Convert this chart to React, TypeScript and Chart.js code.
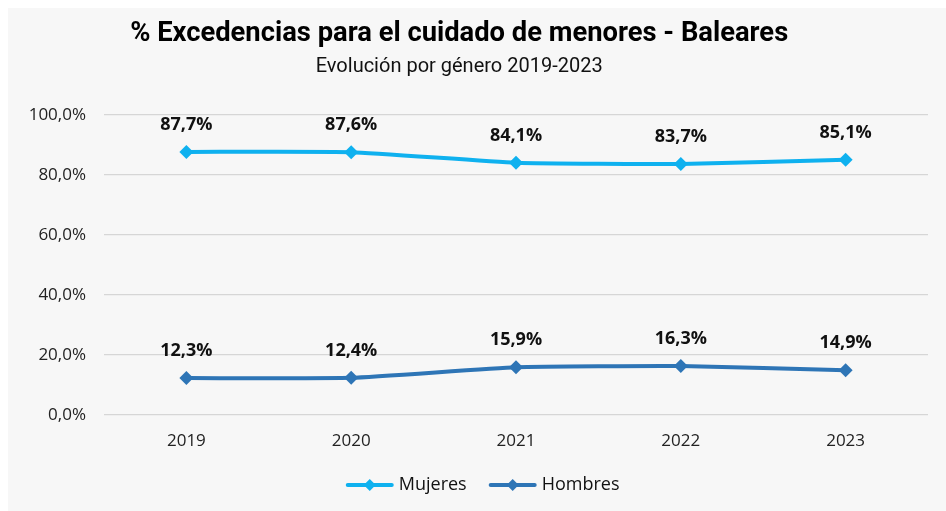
import React, { useEffect, useRef } from "react";
import { Chart, registerables } from "chart.js";

Chart.register(...registerables);

const categories = ["2019", "2020", "2021", "2022", "2023"];
const mujeres = [87.7, 87.6, 84.1, 83.7, 85.1];
const hombres = [12.3, 12.4, 15.9, 16.3, 14.9];
const yTicks = [0, 20, 40, 60, 80, 100];
const titleText = "% Excedencias para el cuidado de menores - Baleares";
const subtitleText = "Evolución por género 2019-2023";

const COLOR_M = "#0fb1ef";
const COLOR_H = "#2e75b6";

const fmt = (v: number) => v.toFixed(1).replace(".", ",") + "%";

const drawDiamond = (ctx: CanvasRenderingContext2D, x: number, y: number, r: number, color: string) => {
  ctx.beginPath();
  ctx.moveTo(x, y - r);
  ctx.lineTo(x + r, y);
  ctx.lineTo(x, y + r);
  ctx.lineTo(x - r, y);
  ctx.closePath();
  ctx.fillStyle = color;
  ctx.fill();
};

const extrasPlugin = {
  id: "extras",
  afterDatasetsDraw(chart: any) {
    const ctx = chart.ctx as CanvasRenderingContext2D;
    ctx.save();
    ctx.font = "bold 18px 'Open Sans'";
    ctx.fillStyle = "#111";
    ctx.textAlign = "center";
    ctx.textBaseline = "middle";
    chart.data.datasets.forEach((ds: any, i: number) => {
      const meta = chart.getDatasetMeta(i);
      meta.data.forEach((pt: any, j: number) => {
        ctx.fillText(fmt(ds.data[j]), pt.x, pt.y - 27);
      });
    });
    ctx.restore();
  },
  afterDraw(chart: any) {
    const ctx = chart.ctx as CanvasRenderingContext2D;
    const w = chart.width;
    ctx.save();
    const cx = w * 0.481;
    ctx.textAlign = "center";
    ctx.textBaseline = "middle";
    ctx.fillStyle = "#000";
    ctx.font = "bold 28px Roboto";
    ctx.fillText(titleText, cx, 26, 658);
    ctx.font = "20px Roboto";
    ctx.fillStyle = "#111";
    ctx.fillText(subtitleText, cx, 59, 318);

    // legend
    const ly = chart.height - 26;
    const items = chart.data.datasets.map((d: any) => ({ label: d.label, color: d.borderColor }));
    ctx.font = "18px 'Open Sans'";
    const lineW = 48;
    const gap = 5;
    const itemGap = 22;
    const widths = items.map((it: any) => lineW + gap + ctx.measureText(it.label).width);
    const total = widths.reduce((a: number, b: number) => a + b, 0) + itemGap * (items.length - 1);
    let x = w * 0.506 - total / 2;
    items.forEach((it: any, i: number) => {
      ctx.strokeStyle = it.color;
      ctx.lineWidth = 4;
      ctx.lineCap = "round";
      ctx.beginPath();
      ctx.moveTo(x + 2, ly);
      ctx.lineTo(x + lineW - 2, ly);
      ctx.stroke();
      drawDiamond(ctx, x + lineW / 2, ly, 6, it.color);
      ctx.fillStyle = "#111";
      ctx.textAlign = "left";
      ctx.fillText(it.label, x + lineW + gap, ly);
      x += widths[i] + itemGap;
    });
    ctx.restore();
  },
};

export default function App() {
  const ref = useRef<HTMLCanvasElement>(null);
  useEffect(() => {
    if (!ref.current) return;
    const chart = new Chart(ref.current, {
      type: "line",
      data: {
        labels: categories,
        datasets: [
          {
            label: "Mujeres",
            data: mujeres,
            borderColor: COLOR_M,
            backgroundColor: COLOR_M,
            borderWidth: 4,
            pointStyle: "rectRot",
            pointRadius: 7,
            pointBorderWidth: 0,
            tension: 0.15,
          },
          {
            label: "Hombres",
            data: hombres,
            borderColor: COLOR_H,
            backgroundColor: COLOR_H,
            borderWidth: 4,
            pointStyle: "rectRot",
            pointRadius: 7,
            pointBorderWidth: 0,
            tension: 0.15,
          },
        ],
      },
      options: {
        animation: false,
        responsive: false,
        layout: { padding: { top: 107, right: 18, left: 0, bottom: 0 } },
        plugins: {
          legend: { display: false },
          title: { display: false },
          tooltip: { enabled: false },
        },
        scales: {
          x: {
            offset: true,
            grid: { display: false, drawTicks: false },
            border: { display: false },
            ticks: { color: "#222", font: { family: "'Open Sans'", size: 17 }, padding: 16 },
            afterFit: (s: any) => {
              s.height = 96;
            },
          },
          y: {
            min: 0,
            max: 100,
            afterBuildTicks: (s: any) => {
              s.ticks = yTicks.map((v) => ({ value: v }));
            },
            grid: { color: "#d6d6d6", lineWidth: 1.3, drawTicks: false },
            border: { display: false },
            ticks: {
              color: "#222",
              font: { family: "'Open Sans'", size: 17 },
              padding: 18,
              callback: (v: any) => fmt(Number(v)),
            },
            afterFit: (s: any) => {
              s.width = 96;
            },
          },
        },
      },
      plugins: [extrasPlugin],
    });
    return () => chart.destroy();
  }, []);
  return (
    <div style={{ position: "absolute", left: 8, top: 8, width: 938, height: 503, background: "#f7f7f7" }}>
      <canvas ref={ref} width={938} height={503} />
    </div>
  );
}
